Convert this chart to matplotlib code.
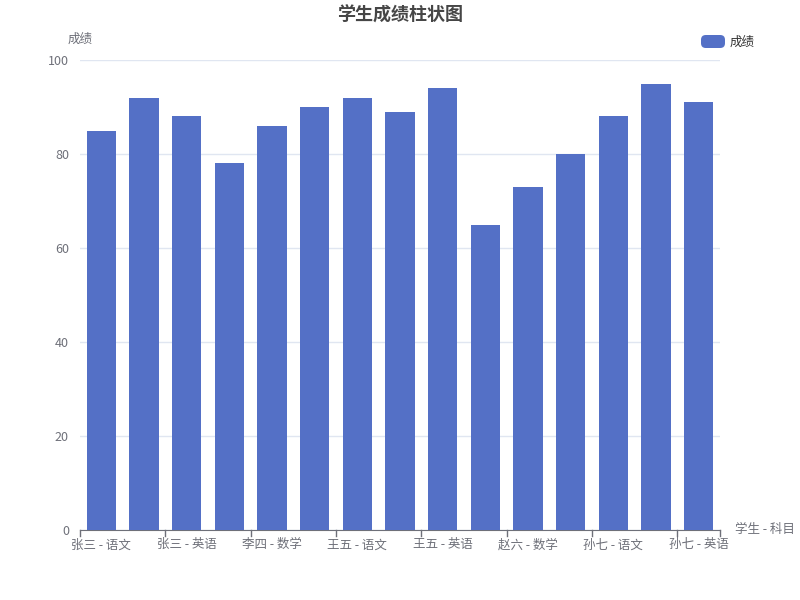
import matplotlib.pyplot as plt
import numpy as np
from matplotlib.patches import FancyBboxPatch

plt.rcParams['font.family'] = ['Noto Sans CJK SC', 'DejaVu Sans']

# 数据
students = ["张三", "李四", "王五", "赵六", "孙七"]
subjects = ["语文", "数学", "英语"]
categories = [s + " - " + k for s in students for k in subjects]
scores = [85, 92, 88, 78, 86, 90, 92, 89, 94, 65, 73, 80, 88, 95, 91]

bar_color = "#5470c6"
text_color = "#6e7079"
grid_color = "#e0e6f1"

fig = plt.figure(figsize=(8, 6), dpi=100)
ax = fig.add_axes([0.1, 1 - 530 / 600, 0.8, 470 / 600])

x = np.arange(len(categories))
ax.bar(x, scores, width=0.68, color=bar_color, zorder=3)

ax.set_xlim(-0.5, len(categories) - 0.5)
ax.set_ylim(0, 100)
ax.set_yticks(range(0, 101, 20))
ax.yaxis.grid(True, color=grid_color, linewidth=1, zorder=0)

# x轴: 标签每隔一个, 刻度在类目边界
ax.set_xticks(x[::2])
ax.set_xticklabels(categories[::2], fontsize=9, color=text_color)
ax.tick_params(axis="x", length=0, pad=6)
for b in np.arange(-0.5, len(categories), 2):
    ax.plot([b, b], [0, -1.2], color=text_color, lw=1, clip_on=False, zorder=4)
ax.plot([len(categories) - 0.5] * 2, [0, -1.2], color=text_color, lw=1, clip_on=False)

ax.tick_params(axis="y", length=0, labelsize=9, labelcolor=text_color, pad=8)

for side in ["top", "right", "left"]:
    ax.spines[side].set_visible(False)
ax.spines["bottom"].set_color(text_color)

fig.text(0.5, 1 - 15 / 600, "学生成绩柱状图", ha="center", va="center",
         fontsize=13, fontweight="bold", color="#464646")
fig.text(80 / 800, 1 - 39 / 600, "成绩", ha="center", va="center",
         fontsize=9, color=text_color)
fig.text(735 / 800, 1 - 530 / 600, "学生 - 科目", ha="left", va="center",
         fontsize=9, color=text_color)

# 图例
leg = FancyBboxPatch((701 / 800, 1 - 48 / 600), 24 / 800, 13 / 600,
                     boxstyle="round,pad=0,rounding_size=0.006",
                     transform=fig.transFigure, facecolor=bar_color,
                     edgecolor="none", mutation_aspect=800 / 600)
fig.patches.append(leg)
fig.text(730 / 800, 1 - 42 / 600, "成绩", ha="left", va="center",
         fontsize=9, color="#333333")

fig.savefig("out.png", dpi=100)
